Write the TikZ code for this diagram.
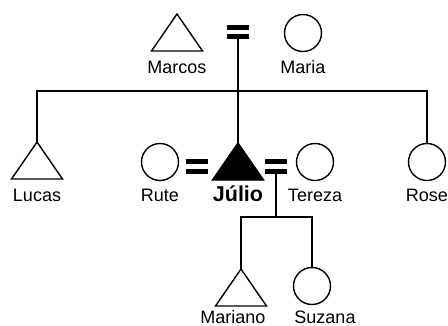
\documentclass[tikz,border=0pt]{standalone}
\usepackage{fontspec}
\setmainfont{Liberation Sans}
\usetikzlibrary{shapes.geometric}

\tikzset{
  male/.style={isosceles triangle, shape border rotate=90, isosceles triangle stretches,
    minimum width=51pt, minimum height=37pt, inner sep=0pt, outer sep=0pt,
    draw, line width=1.4pt, anchor=apex},
  female/.style={circle, draw, line width=1.4pt, minimum size=37pt, inner sep=0pt, outer sep=0pt},
  personlabel/.style={anchor=base, font=\fontsize{18}{20}\selectfont},
  link/.style={line width=1.4pt}
}

\begin{document}
\begin{tikzpicture}[x=1pt,y=-1pt]
\useasboundingbox (0,0) rectangle (448,325);

% parents section
\node[male] (marcos) at (177,14) {};
\node[personlabel] (marcosname) at (177,73) {Marcos};
\node[female] (maria) at (303,33) {};
\node[personlabel] (marianame) at (303,73) {Maria};
\fill (227,25) rectangle (249,30);
\fill (227,34) rectangle (249,39);
\coordinate (wedtop) at (238,39);
\coordinate (sibs) at (238,91);

% siblings section
\node[male] (lucas) at (37,142) {};
\node[personlabel] (lucasname) at (37,201) {Lucas};
\node[male, fill=black] (julio) at (238,143) {};
\node[personlabel, font=\fontsize{21.5}{24}\selectfont\bfseries] (julioname) at (238,201) {Júlio};
\node[female] (rose) at (427,162) {};
\node[personlabel] (rosename) at (427,201) {Rose};
\draw[link] (wedtop) -- (julio.apex);
\draw[link] (lucas.apex) |- (sibs) -| (rose.north);

% spouses section
\node[female] (rute) at (160,162) {};
\node[personlabel] (rutename) at (160,201) {Rute};
\fill (186,159) rectangle (208,164);
\fill (186,169) rectangle (208,174);
\node[female] (tereza) at (315,162) {};
\node[personlabel] (terezaname) at (315,201) {Tereza};
\fill (265,159) rectangle (287,164);
\fill (265,169) rectangle (287,174);
\coordinate (wedlow) at (276,174);
\coordinate (kids) at (276,217);

% children section
\node[male] (mariano) at (241,269) {};
\node[personlabel] (marianoname) at (233,323) {Mariano};
\node[female] (suzana) at (312,286) {};
\node[personlabel] (suzananame) at (325,323) {Suzana};
\draw[link] (wedlow) -- (kids);
\draw[link] (mariano.apex) |- (kids) -| (suzana.north);

\end{tikzpicture}
\end{document}
